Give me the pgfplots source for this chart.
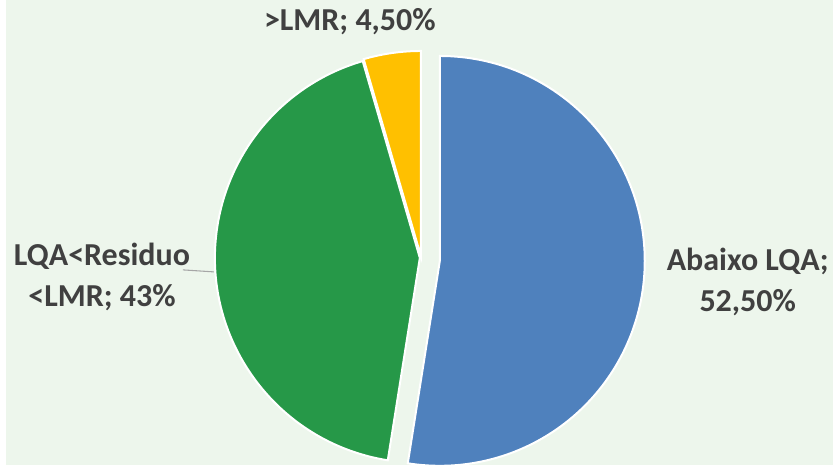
\documentclass[border=0pt]{standalone}
\usepackage{fontspec}
\setmainfont{Carlito}
\usepackage{pgfplots}
\usepackage{pgfplotstable}
\pgfplotsset{compat=1.18}
\definecolor{bgGreen}{RGB}{237,246,236}
\definecolor{sBlue}{RGB}{79,129,189}
\definecolor{sGreen}{RGB}{38,152,72}
\definecolor{sYellow}{RGB}{255,192,0}
\definecolor{txt}{RGB}{64,64,64}
\definecolor{leader}{RGB}{166,166,166}
\tikzset{lbl/.style={text=txt, font=\bfseries\fontsize{24}{31}\selectfont, align=center}}

% slice values (percent) and slice centres (pixels, y up)
\pgfplotstableread{
name value cx cy
blue 52.5 440 204
green 43.0 420 207
yellow 4.5 421 209
}\slices

\newcommand\getv[3]{\pgfplotstablegetelem{#1}{#2}\of\slices\pgfmathsetmacro#3{\pgfplotsretval}}

\begin{document}
\begin{tikzpicture}
\getv{0}{value}\va \getv{1}{value}\vb \getv{2}{value}\vc
\getv{0}{cx}\xa \getv{1}{cx}\xb \getv{2}{cx}\xc
\getv{0}{cy}\ya \getv{1}{cy}\yb \getv{2}{cy}\yc
\pgfmathsetmacro\aA{90}
\pgfmathsetmacro\aB{\aA-3.6*\va}
\pgfmathsetmacro\aC{\aB-3.6*\vb}
\pgfmathsetmacro\aD{\aC-3.6*\vc}
\def\R{153.75pt}
\begin{axis}[
    x=0.75pt, y=0.75pt,
    xmin=0, xmax=833, ymin=0, ymax=465,
    hide axis, clip=false
]
\fill[white] (axis cs:0,0) rectangle (axis cs:833,465);
\fill[bgGreen] (axis cs:6,0) rectangle (axis cs:833,465);
\addplot[draw=none] table[x=cx, y=cy] {\slices};
\fill[sBlue, draw=white, line width=1.5pt] (axis cs:\xa,\ya) -- ++(\aA:\R) arc[start angle=\aA, end angle=\aB, radius=\R] -- cycle;
\fill[sGreen, draw=white, line width=1.5pt] (axis cs:\xb,\yb) -- ++(\aB:\R) arc[start angle=\aB, end angle=\aC, radius=\R] -- cycle;
\fill[sYellow, draw=white, line width=1.5pt] (axis cs:\xc,\yc) -- ++(\aC:\R) arc[start angle=\aC, end angle=\aD, radius=\R] -- cycle;
\draw[leader, line width=0.8pt] (axis cs:183,195) -- (axis cs:214,193);
\node[lbl] at (axis cs:350,443) {>LMR; 4,50\%};
\node[lbl] at (axis cs:102,188) {LQA<Residuo\\<LMR; 43\%};
\node[lbl] at (axis cs:748,183) {Abaixo LQA;\\52,50\%};
\end{axis}
\end{tikzpicture}
\end{document}
